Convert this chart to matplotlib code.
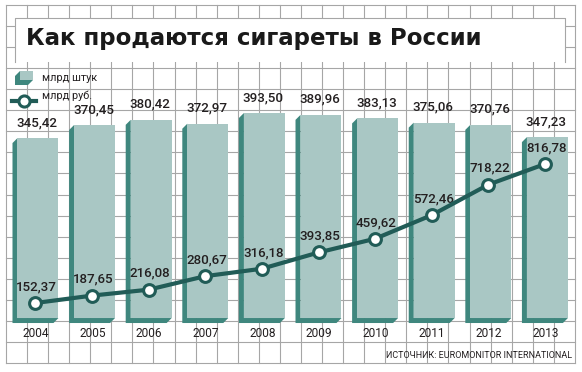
import matplotlib
matplotlib.use("Agg")
import matplotlib.pyplot as plt
from matplotlib.patches import Rectangle, Polygon
from matplotlib.lines import Line2D
from matplotlib.transforms import IdentityTransform, offset_copy

years = ["2004", "2005", "2006", "2007", "2008", "2009", "2010", "2011", "2012", "2013"]
pieces = [345.42, 370.45, 380.42, 372.97, 393.50, 389.96, 383.13, 375.06, 370.76, 347.23]
rubles = [152.37, 187.65, 216.08, 280.67, 316.18, 393.85, 459.62, 572.46, 718.22, 816.78]

title = "Как продаются сигареты в России"
legend_labels = ["млрд штук", "млрд руб."]
source = "ИСТОЧНИК: EUROMONITOR INTERNATIONAL"

W, H = 582, 372
LIGHT = "#a9c7c4"
DARK = "#3f877e"
LINE = "#215c57"
TXT = "#231f20"
GRIDC = "#a6a6a6"

fig = plt.figure(figsize=(W / 100, H / 100), dpi=100)
fig.patch.set_facecolor("white")


def fx(x):
    return x / W


def fy(y):
    return 1 - y / H


# background squared paper
for k in range(28):
    x = 6 + 21.07 * k
    fig.add_artist(Line2D([fx(x), fx(x)], [fy(5), fy(363)], color=GRIDC, lw=0.8, zorder=-2))
for k in range(18):
    y = 5 + 21.06 * k
    fig.add_artist(Line2D([fx(6), fx(575)], [fy(y), fy(y)], color=GRIDC, lw=0.8, zorder=-2))

# title box
fig.add_artist(Rectangle((fx(15), fy(62)), fx(565) - fx(15), fy(18) - fy(62),
                         facecolor="white", edgecolor="none", zorder=-1))
fig.add_artist(Line2D([fx(15), fx(15), fx(565), fx(565)], [fy(62), fy(18), fy(18), fy(62)],
                      color=GRIDC, lw=0.8, zorder=-0.9))
fig.text(fx(26), fy(39), title, fontsize=16.5, fontweight="heavy", color="#1a1a1a",
         va="center", ha="left", family="DejaVu Sans")

# axes: bars and line share x, separate y scales
ax = fig.add_axes([0, 0, 1, 1])
ax.set_xlim(-0.671, 9.611)
ax.set_ylim(-103.6, 610.4)
ax.axis("off")
ax2 = ax.twinx()
ax2.set_ylim(-177.7, 1601.3)
ax2.axis("off")
ax.patch.set_visible(False)
ax2.patch.set_visible(False)

xs = list(range(len(years)))
bw = 0.724
depth = 5

ax.bar(xs, pieces, width=bw, color=LIGHT, zorder=3)
fig.canvas.draw()
tr = ax.transData
for i, v in zip(xs, pieces):
    x0, y0 = tr.transform((i - bw / 2, 0))
    x1, y1 = tr.transform((i + bw / 2, v))
    pts = [(x0, y1), (x0 - depth, y1 - depth), (x0 - depth, y0 - depth),
           (x1 - depth, y0 - depth), (x1, y0), (x0, y0)]
    ax.add_artist(Polygon(pts, closed=True, facecolor=DARK, edgecolor="none",
                          transform=IdentityTransform(), zorder=2))
    ax.annotate(f"{v:.2f}".replace(".", ","), (i - 0.02, v), xytext=(0, 6.5),
                textcoords="offset points", ha="center", va="bottom",
                fontsize=9.6, color=TXT, family="Roboto", fontweight="medium")

shift = offset_copy(ax2.transData, fig=fig, x=-2.5, y=0, units="dots")
ax2.plot(xs, rubles, color=LINE, lw=3, marker="o", markersize=8.5,
         markerfacecolor="white", markeredgecolor=LINE, markeredgewidth=2.2,
         transform=shift, zorder=5)
for i, v in zip(xs, rubles):
    ax2.annotate(f"{v:.2f}".replace(".", ","), (i - 0.02, v), xytext=(0, 7),
                 textcoords="offset points", ha="center", va="bottom",
                 fontsize=9.6, color=TXT, family="Roboto", fontweight="medium")

for i, yr in zip(xs, years):
    ax.text(i - 0.035, -29, yr, ha="center", va="center", fontsize=8.6,
            color=TXT, family="Roboto")

fig.text(fx(572), fy(355), source, ha="right", va="center", fontsize=6.5,
         color=TXT, family="Roboto")

# legend
fig.add_artist(Polygon([(fx(20), fy(71)), (fx(15), fy(76)), (fx(15), fy(85)),
                        (fx(28), fy(85)), (fx(33), fy(80)), (fx(20), fy(80))],
                       closed=True, facecolor=DARK, edgecolor="none", zorder=1))
fig.add_artist(Rectangle((fx(20), fy(80)), fx(33) - fx(20), fy(71) - fy(80),
                         facecolor=LIGHT, edgecolor="none", zorder=1.1))
fig.add_artist(Line2D([fx(12), fx(36)], [fy(100.5), fy(100.5)], color=LINE, lw=3, zorder=1))
fig.add_artist(Line2D([fx(24)], [fy(100.5)], marker="o", markersize=8,
                      markerfacecolor="white", markeredgecolor=LINE,
                      markeredgewidth=2.2, zorder=1.1))
fig.text(fx(42), fy(78), legend_labels[0], ha="left", va="center", fontsize=7.8,
         color=TXT, family="Roboto")
fig.text(fx(42), fy(96), legend_labels[1], ha="left", va="center", fontsize=7.8,
         color=TXT, family="Roboto")

fig.savefig("out.png", dpi=100, facecolor="white")
